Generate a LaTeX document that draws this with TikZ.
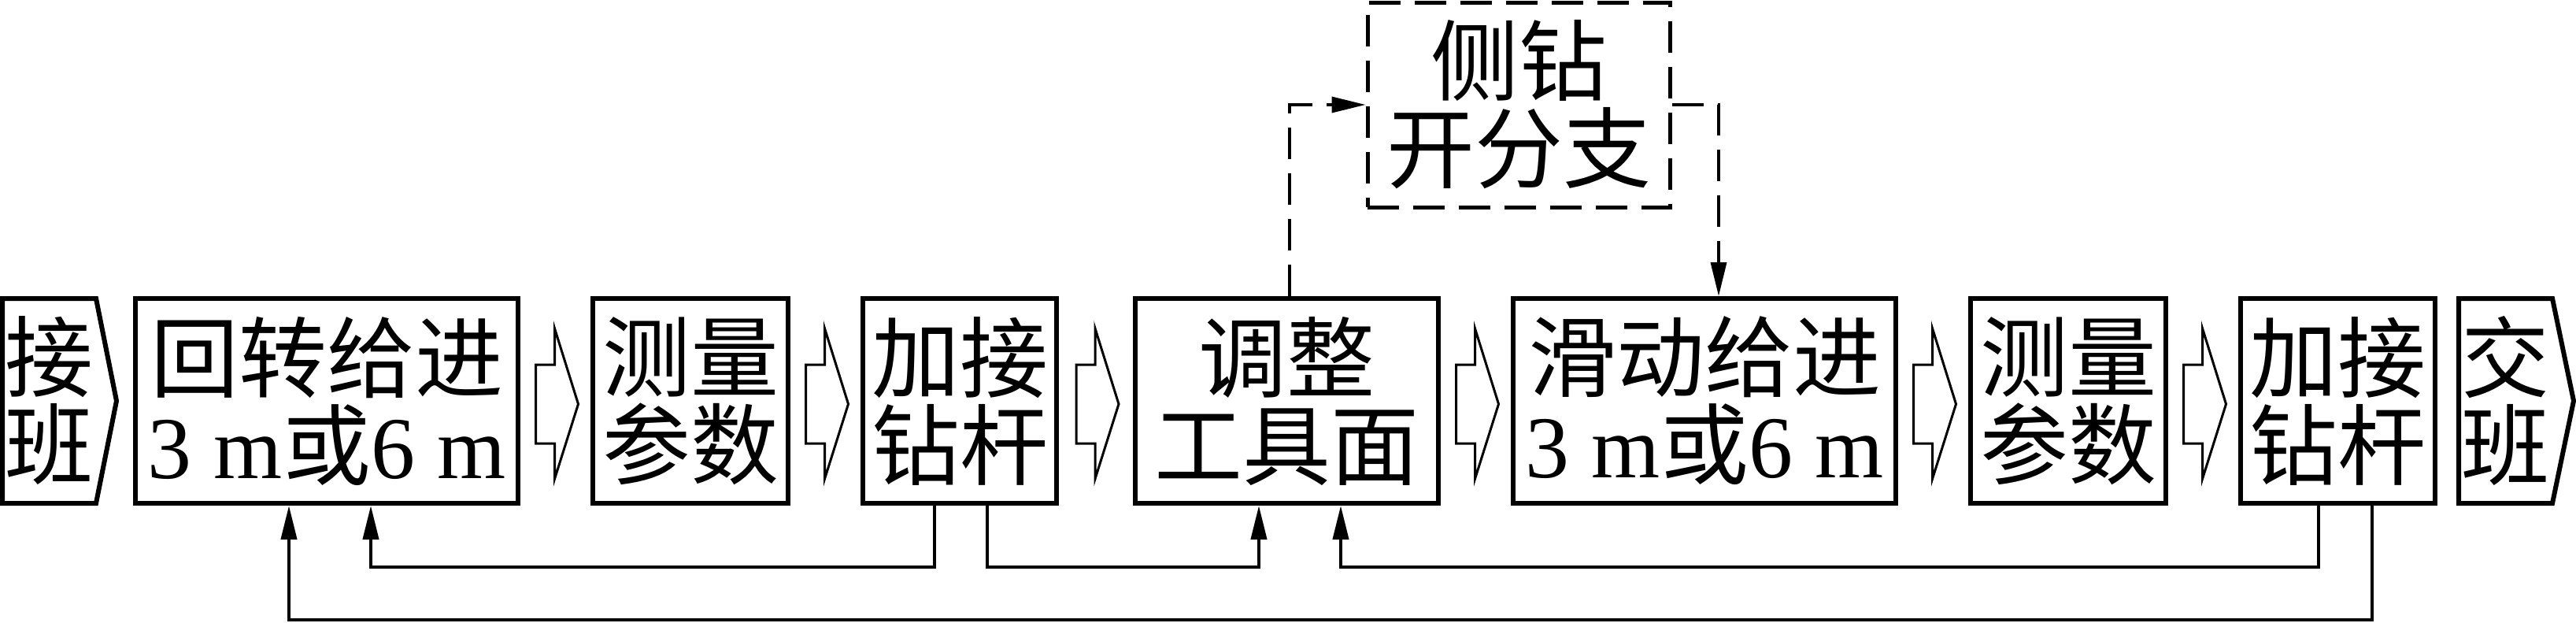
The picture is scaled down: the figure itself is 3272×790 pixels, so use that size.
\documentclass[tikz,border=0pt]{standalone}
\usepackage{fontspec}
\setmainfont{Liberation Serif}
\newfontfamily\cjk{Noto Sans CJK SC}
\newfontfamily\tms{Liberation Serif}
\usepackage{tikz}
\usetikzlibrary{arrows.meta,calc}
\tikzset{
  proc_box/.style = {draw, line width=6pt, minimum height=260pt, inner sep=0pt,
    align=center, font=\cjk\fontsize{112pt}{111pt}\selectfont},% process step
  shift_box/.style = {minimum width=119pt, minimum height=260pt, inner sep=0pt,
    outer sep=0pt, align=center, font=\cjk\fontsize{112pt}{111pt}\selectfont},% start / end of shift
  side_box/.style = {proc_box, line width=5pt, dash pattern=on 40pt off 18pt},
  fb_line/.style = {->, line width=4pt},
  dash_line/.style = {->, line width=3.5pt, dash pattern=on 40pt off 18pt},
  hollow_arr/.style = {line width=3pt, line join=miter},
}

\begin{document}
\begin{tikzpicture}[x=1pt,y=-1pt,>={Triangle[length=43pt,width=20pt]}]
  \useasboundingbox (0,0) rectangle (3272,790);

  \node[shift_box] (b0) at (62.5,509) {接\\班};
  \node[proc_box, minimum width=486pt] (b1) at (415,509) {回转给进\\{\tms 3 m}或{\tms 6 m}};
  \node[proc_box, minimum width=248pt] (b2) at (877,509) {测量\\参数};
  \node[proc_box, minimum width=246pt] (b3) at (1219,509) {加接\\钻杆};
  \node[proc_box, minimum width=385pt] (b4) at (1634.5,509) {调整\\工具面};
  \node[proc_box, minimum width=486pt] (b5) at (2165,509) {滑动给进\\{\tms 3 m}或{\tms 6 m}};
  \node[proc_box, minimum width=248pt] (b6) at (2627,509) {测量\\参数};
  \node[proc_box, minimum width=247pt] (b7) at (2969.5,509) {加接\\钻杆};
  \node[shift_box] (b8) at (3182.5,509) {交\\班};
  \node[side_box, minimum width=384pt] (b9) at (1929,133) {侧钻\\开分支};

  % pointed boxes
  \draw[line width=6pt, line join=miter] (b0.north west) -- (b0.north east)
    -- ($(b0.east)+(26,0)$) -- (b0.south east) -- (b0.south west) -- cycle;
  \draw[line width=6pt, line join=miter] (b8.north west) -- (b8.north east)
    -- ($(b8.east)+(27,0)$) -- (b8.south east) -- (b8.south west) -- cycle;

  % hollow arrows
  \foreach \a/\b in {b1/b2,b2/b3,b3/b4,b4/b5,b5/b6,b6/b7}
    \draw[hollow_arr] ($(\a.east)!0.5!(\b.west)+(-25,4)$) -- ++(0,-50) -- ++(24,0)
      -- ++(0,-46) -- ++(30,96) -- ++(-30,95) -- ++(0,-45) -- ++(-24,0) -- cycle;

  % back to feed
  \draw[fb_line] ($(b3.south)+(-32,0)$) -- ++(0,78) -| ($(b1.south)+(56,0)$);
  \draw[fb_line] ($(b7.south)+(43.5,0)$) -- ++(0,145) -| ($(b1.south)+(-48,0)$);
  % back to tool face
  \draw[fb_line] ($(b3.south)+(35,0)$) -- ++(0,78) -| ($(b4.south)+(-35.5,0)$);
  \draw[fb_line] ($(b7.south)+(-24.5,0)$) -- ++(0,78) -| ($(b4.south)+(68.5,0)$);

  % side track
  \draw[dash_line] ($(b4.north)+(3.5,0)$) |- (b9.west);
  \draw[dash_line] (b9.east) -| ($(b5.north)+(18,0)$);
\end{tikzpicture}
\end{document}
